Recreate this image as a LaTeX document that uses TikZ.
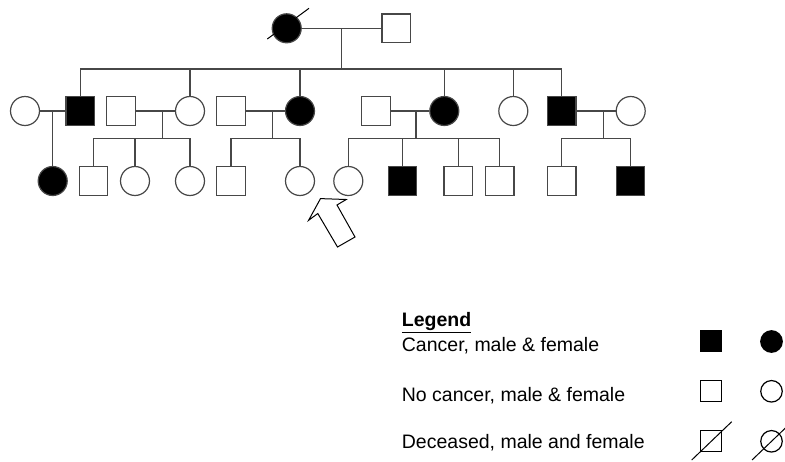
\documentclass[tikz,border=0pt]{standalone}
\usepackage{fontspec}
\setmainfont{Liberation Sans}
\usetikzlibrary{calc}
\definecolor{pedline}{gray}{0.28}
\tikzset{
  male/.style={draw=pedline, rectangle, minimum size=28.5pt, inner sep=0pt, line width=1.2pt, fill=white},
  female/.style={draw=pedline, circle, minimum size=29pt, inner sep=0pt, line width=1.2pt, fill=white},
  aff/.style={fill=black},
  link/.style={draw=pedline, line width=1.2pt},
  lmale/.style={draw=black, rectangle, minimum size=21pt, inner sep=0pt, line width=1.2pt},
  lfemale/.style={draw=black, circle, minimum size=21.5pt, inner sep=0pt, line width=1.2pt},
  slash/.style={draw=black, line width=1pt},
  legtext/.style={anchor=base west, inner sep=0pt, font=\fontsize{19.5}{24}\selectfont}
}
\begin{document}
\begin{tikzpicture}[x=1pt,y=-1pt]
\useasboundingbox (0,0) rectangle (785,461);
% generation I
\node[female,aff] (I1) at (286.7,28.3) {};
\node[male] (I2) at (396.2,28.3) {};
% generation II
\node[female] (II1) at (25,111) {};
\node[male,aff] (II2) at (80.3,111) {};
\node[male] (II3) at (121,111) {};
\node[female] (II4) at (190,111) {};
\node[male] (II5) at (231,111) {};
\node[female,aff] (II6) at (300,111) {};
\node[male] (II7) at (376,111) {};
\node[female,aff] (II8) at (444.3,111) {};
\node[female] (II9) at (513.3,111) {};
\node[male,aff] (II10) at (561.7,111) {};
\node[female] (II11) at (630.7,111) {};
% generation III
\node[female,aff] (III1) at (52.7,181) {};
\node[male] (III2) at (93.5,181) {};
\node[female] (III3) at (135,181) {};
\node[female] (III4) at (190,181) {};
\node[male] (III5) at (231,181) {};
\node[female] (III6) at (300,181) {};
\node[female] (III7) at (348.3,181) {};
\node[male,aff] (III8) at (402.6,181) {};
\node[male] (III9) at (458.3,181) {};
\node[male] (III10) at (499.8,181) {};
\node[male] (III11) at (561.7,181) {};
\node[male,aff] (III12) at (630.5,181) {};
% deceased slash on I1
\draw[slash] ($(I1)+(-19.4,10.7)$) -- ($(I1)+(22.3,-20)$);
% marriages
\draw[link] (I1) -- (I2);
\draw[link] (II1) -- (II2);
\draw[link] (II3) -- (II4);
\draw[link] (II5) -- (II6);
\draw[link] (II7) -- (II8);
\draw[link] (II10) -- (II11);
% sibship I
\coordinate (m1) at (341.7,28.3);
\coordinate (s1) at (341.7,69);
\draw[link] (m1) -- (s1);
\draw[link] (II2.north |- s1) -- (II10.north |- s1);
\foreach \c in {II2,II4,II6,II8,II9,II10} \draw[link] (\c.north) -- (\c.north |- s1);
% II1 x II2
\coordinate (m2) at (52.7,111);
\draw[link] (m2) -- (III1.north);
% II3 x II4
\coordinate (m3) at (162.7,111);
\coordinate (s3) at (162.7,138.3);
\draw[link] (m3) -- (s3);
\draw[link] (III2.north |- s3) -- (III4.north |- s3);
\foreach \c in {III2,III3,III4} \draw[link] (\c.north) -- (\c.north |- s3);
% II5 x II6
\coordinate (m4) at (272.7,111);
\coordinate (s4) at (272.7,138.3);
\draw[link] (m4) -- (s4);
\draw[link] (III5.north |- s4) -- (III6.north |- s4);
\foreach \c in {III5,III6} \draw[link] (\c.north) -- (\c.north |- s4);
% II7 x II8
\coordinate (m5) at (416,111);
\coordinate (s5) at (416,138.3);
\draw[link] (m5) -- (s5);
\draw[link] (III7.north |- s5) -- (III10.north |- s5);
\foreach \c in {III7,III8,III9,III10} \draw[link] (\c.north) -- (\c.north |- s5);
% II10 x II11
\coordinate (m6) at (603.3,111);
\coordinate (s6) at (603.3,138.3);
\draw[link] (m6) -- (s6);
\draw[link] (III11.north |- s6) -- (III12.north |- s6);
\foreach \c in {III11,III12} \draw[link] (\c.north) -- (\c.north |- s6);
% proband arrow
\draw[black, line width=1pt, fill=white, line join=miter]
  (320.5,198.6) -- (346.2,199.5) -- (337,205) -- (355,237) -- (337.5,247) -- (317.8,213.5) -- (308.6,220.3) -- cycle;
% legend
\node[legtext] (lg) at (401.7,326.7) {\textbf{\underline{Legend}}};
\node[legtext] (l1) at (401.7,351.7) {Cancer, male \& female};
\node[legtext] (l2) at (401.7,401.3) {No cancer, male \& female};
\node[legtext] (l3) at (401.7,448.3) {Deceased, male and female};
\node[lmale,fill=black] (ls1) at (711.2,341.2) {};
\node[lfemale,fill=black] (lc1) at (771.5,341.5) {};
\node[lmale] (ls2) at (711.2,391.3) {};
\node[lfemale] (lc2) at (771.5,391.3) {};
\node[lmale] (ls3) at (711.2,441.3) {};
\node[lfemale] (lc3) at (771.5,441.3) {};
\draw[slash] ($(ls3)+(-19.5,18.7)$) -- ($(ls3)+(20.5,-19.6)$);
\draw[slash] ($(lc3)+(-19.5,18.7)$) -- ($(lc3)+(20.5,-19.6)$);
\end{tikzpicture}
\end{document}
